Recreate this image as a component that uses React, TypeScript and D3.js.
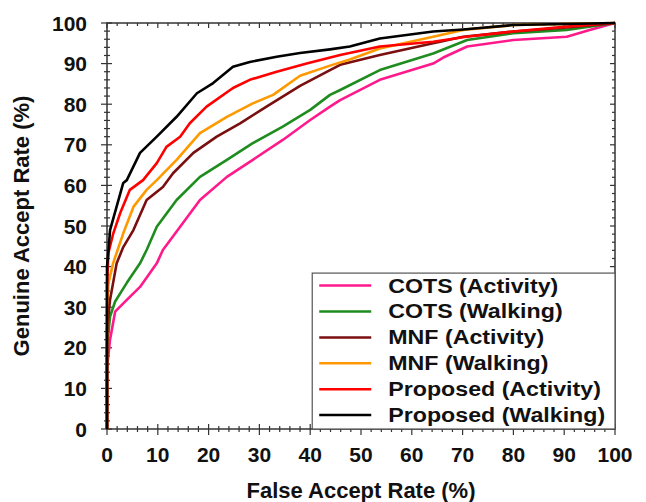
import React, { useRef, useEffect } from 'react';
import * as d3 from 'd3';

// ROC curves: false accept rate (%) vs genuine accept rate (%)
const seriesNames = [
  'COTS (Activity)',
  'COTS (Walking)',
  'MNF (Activity)',
  'MNF (Walking)',
  'Proposed (Activity)',
  'Proposed (Walking)',
];

const cotsActivity: [number, number][] = [
  [0, 0], [0, 15], [0.6, 22], [1.6, 28.9], [3.9, 31.8], [6.5, 35], [9.8, 40.8], [11, 44.1],
  [14.4, 49.8], [18.3, 56.4], [23.6, 62.1], [28.7, 66.3], [34.6, 71.2], [40, 76.1], [43.9, 79.4],
  [45.9, 81], [53.7, 86], [64.2, 90], [66.2, 91.5], [70.9, 94.2], [80, 95.8], [90.5, 96.6],
  [95, 98.3], [100, 100],
];
const cotsWalking: [number, number][] = [
  [0, 0], [0, 20.3], [0.6, 27.7], [1.6, 31.4], [3.9, 36], [6.5, 40.8], [7.8, 44.1], [9.8, 49.8],
  [13.7, 56.4], [18.3, 62.1], [23.6, 66.3], [28.7, 70.4], [34.6, 74.5], [40, 78.6], [43.9, 82.3],
  [45.9, 83.5], [53.7, 88.4], [64.2, 92.5], [70.9, 95.8], [80, 97.5], [90.5, 98.3], [100, 100],
];
const mnfActivity: [number, number][] = [
  [0, 0], [0, 24.4], [0.6, 31.8], [1.9, 40.8], [3.2, 44.8], [5.2, 49], [7.8, 56.4], [11, 59.6],
  [13, 63], [17, 68], [21.6, 72], [26.2, 75.3], [31.4, 79.4], [38, 84.5], [43.9, 88.4],
  [45.9, 89.7], [53.7, 92.1], [64.2, 95], [70.1, 96.6], [80, 97.9], [90.5, 98.9], [100, 100],
];
const mnfWalking: [number, number][] = [
  [0, 0], [0, 30], [0.3, 36], [1.2, 40.8], [3.2, 48.2], [5.2, 54.7], [7.8, 58.9], [9.8, 61.3],
  [13.7, 66.3], [18.3, 72.9], [23.6, 76.9], [28.7, 80.2], [32.7, 82.3], [38, 87], [43.9, 89.5],
  [47.8, 91], [53.7, 93.7], [64.2, 96.6], [70.1, 98.3], [80, 99.5], [100, 100],
];
const proposedActivity: [number, number][] = [
  [0, 0], [0, 35], [0.26, 43.3], [1.24, 48.2], [2.6, 53.2], [4.5, 58.9], [7.1, 61.3], [9.8, 65.5],
  [11.7, 69.5], [14.4, 72], [16.3, 75.3], [19.6, 79.4], [24.8, 84], [28.1, 86], [33.4, 88],
  [39.3, 90], [45.9, 92.1], [53.7, 94.2], [64.2, 95.4], [70.7, 96.6], [80, 97.9], [90.5, 99.1],
  [100, 100],
];
const proposedWalking: [number, number][] = [
  [0, 0], [0, 40], [0.3, 44], [0.6, 49], [3.2, 60.6], [3.9, 61.3], [6.5, 68], [9.8, 72],
  [13.7, 76.9], [17.7, 82.7], [20.9, 85.2], [24.8, 89.2], [28.1, 90.4], [33.4, 91.7], [38, 92.6],
  [43.9, 93.5], [47.8, 94.2], [53.7, 96.2], [64.2, 97.9], [70.1, 98.4], [80, 99.5], [100, 100],
];

const seriesData = [cotsActivity, cotsWalking, mnfActivity, mnfWalking, proposedActivity, proposedWalking];
const seriesColors = ['#ff1a8c', '#1e8c1e', '#7a0f0f', '#ff9900', '#ff0000', '#000000'];

const majorTicks = [0, 10, 20, 30, 40, 50, 60, 70, 80, 90, 100];
const minorTicks = d3.range(0, 101, 2);

const App = () => {
  const ref = useRef<SVGSVGElement>(null);

  useEffect(() => {
    const root = d3.select(ref.current);
    root.selectAll('*').remove();

    const margin = { top: 23, right: 31, bottom: 73, left: 107 };
    const W = 646, H = 502;
    const width = W - margin.left - margin.right;
    const height = H - margin.top - margin.bottom;
    const font = 'Liberation Sans, Arial, sans-serif';
    const axisColor = '#333';

    const svg = root.append('g').attr('transform', `translate(${margin.left},${margin.top})`);

    const x = d3.scaleLinear().domain([0, 100]).range([0, width]);
    const y = d3.scaleLinear().domain([0, 100]).range([height, 0]);

    // Frame
    svg.append('rect')
      .attr('width', width).attr('height', height)
      .attr('fill', 'white').attr('stroke', axisColor).attr('stroke-width', 1.5);

    const isMajor = (v: number) => v % 10 === 0;

    // Bottom + left ticks cross the axis, top + right point inward
    svg.append('g').selectAll('line').data(minorTicks).join('line')
      .attr('x1', d => x(d)).attr('x2', d => x(d))
      .attr('y1', d => height - (isMajor(d) ? 5 : 3))
      .attr('y2', d => height + (isMajor(d) ? 6 : 3))
      .attr('stroke', axisColor).attr('stroke-width', 1.2);
    svg.append('g').selectAll('line').data(minorTicks).join('line')
      .attr('x1', d => x(d)).attr('x2', d => x(d))
      .attr('y1', 0).attr('y2', d => (isMajor(d) ? 5 : 3))
      .attr('stroke', axisColor).attr('stroke-width', 1.2);
    svg.append('g').selectAll('line').data(minorTicks).join('line')
      .attr('y1', d => y(d)).attr('y2', d => y(d))
      .attr('x1', d => -(isMajor(d) ? 6 : 3))
      .attr('x2', d => (isMajor(d) ? 5 : 3))
      .attr('stroke', axisColor).attr('stroke-width', 1.2);
    svg.append('g').selectAll('line').data(minorTicks).join('line')
      .attr('y1', d => y(d)).attr('y2', d => y(d))
      .attr('x1', width).attr('x2', d => width - (isMajor(d) ? 5 : 3))
      .attr('stroke', axisColor).attr('stroke-width', 1.2);

    // Tick labels
    svg.append('g').selectAll('text').data(majorTicks).join('text')
      .attr('x', d => x(d)).attr('y', height + 33)
      .attr('text-anchor', 'middle')
      .style('font-family', font).style('font-weight', 'bold').style('font-size', '21px')
      .attr('fill', '#111')
      .text(d => d);
    svg.append('g').selectAll('text').data(majorTicks).join('text')
      .attr('x', -20).attr('y', d => y(d) + 7.5)
      .attr('text-anchor', 'end')
      .style('font-family', font).style('font-weight', 'bold').style('font-size', '21px')
      .attr('fill', '#111')
      .text(d => d);

    // Axis titles
    svg.append('text')
      .attr('x', width / 2).attr('y', height + 69)
      .attr('text-anchor', 'middle')
      .style('font-family', font).style('font-weight', 'bold').style('font-size', '22px')
      .attr('fill', '#111')
      .text('False Accept Rate (%)');
    svg.append('text')
      .attr('transform', 'rotate(-90)')
      .attr('x', -height / 2).attr('y', -78)
      .attr('text-anchor', 'middle')
      .style('font-family', font).style('font-weight', 'bold').style('font-size', '22px')
      .attr('fill', '#111')
      .text('Genuine Accept Rate (%)');

    // Curves
    const line = d3.line<[number, number]>().x(d => x(d[0])).y(d => y(d[1]));
    svg.append('g').selectAll('path').data(seriesData).join('path')
      .attr('d', d => line(d))
      .attr('fill', 'none')
      .attr('stroke', (_, i) => seriesColors[i])
      .attr('stroke-width', 2.6)
      .attr('stroke-linejoin', 'round');

    // Legend
    const legend = svg.append('g').attr('transform', `translate(${x(40.4)}, ${y(38.4)})`);
    legend.append('rect')
      .attr('width', width - x(40.4)).attr('height', height - y(38.4))
      .attr('fill', 'white').attr('stroke', '#555').attr('stroke-width', 1.2);
    const rows = legend.selectAll('g.row').data(seriesNames).join('g')
      .attr('class', 'row')
      .attr('transform', (_, i) => `translate(0, ${12.5 + i * 25.9})`);
    rows.append('line')
      .attr('x1', 7).attr('x2', 59)
      .attr('stroke', (_, i) => seriesColors[i]).attr('stroke-width', 2.5);
    rows.append('text')
      .attr('transform', 'translate(76, 7) scale(1.19, 1)')
      .style('font-family', font).style('font-weight', 'bold').style('font-size', '19.5px')
      .attr('fill', '#111')
      .text(d => d);
  }, []);

  return (
    <svg ref={ref} width={646} height={502}
      style={{ position: 'absolute', left: 0, top: 0, background: 'white' }} />
  );
};

export default App;
